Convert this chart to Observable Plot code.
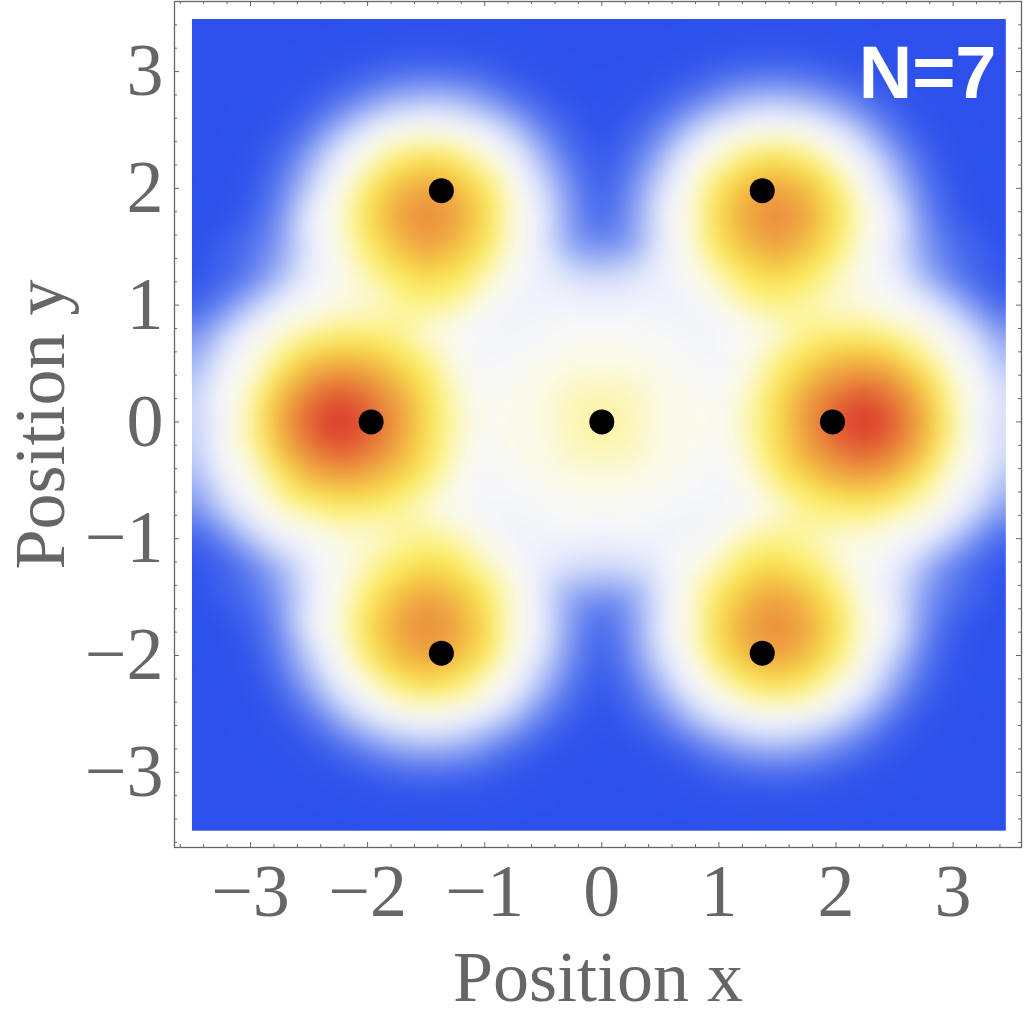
<!DOCTYPE html>
<html>
<head>
<meta charset="utf-8">
<script src="https://cdn.jsdelivr.net/npm/d3@7"></script>
<script src="https://cdn.jsdelivr.net/npm/@observablehq/plot@0.6"></script>
<style>
  html, body { margin: 0; padding: 0; background: #fff; }
  #chart { width: 1024px; height: 1020px; }
</style>
</head>
<body>
<div id="chart"></div>
<script>
// ---------- data ----------
const gridX = [-3.5,-3.25,-3,-2.75,-2.5,-2.25,-2,-1.75,-1.5,-1.25,-1,-0.75,-0.5,-0.25,0,0.25,0.5,0.75,1,1.25,1.5,1.75,2,2.25,2.5,2.75,3,3.25,3.5];
const gridY = [3.5,3.25,3,2.75,2.5,2.25,2,1.75,1.5,1.25,1,0.75,0.5,0.25,0,-0.25,-0.5,-0.75,-1,-1.25,-1.5,-1.75,-2,-2.25,-2.5,-2.75,-3,-3.25,-3.5];
// density level (0 = background, 100 = highest) per grid row (top to bottom), per column (left to right)
const densityRows = [
  [4,4,4,4,5,6,7,8,8,8,7,6,5,5,4,5,5,6,7,8,8,8,7,6,5,4,4,4,4],
  [4,4,5,6,8,9,11,13,14,13,12,10,8,6,5,6,8,10,12,13,14,13,11,9,8,6,5,4,4],
  [4,5,6,9,12,16,20,23,24,23,21,16,13,9,7,9,13,16,21,23,24,23,20,16,12,9,6,5,4],
  [5,6,9,13,18,25,31,36,38,37,32,26,19,14,10,14,19,26,32,37,38,36,31,25,18,13,9,6,5],
  [5,7,11,17,26,36,45,50,52,50,46,38,28,20,13,20,28,38,46,50,52,50,45,36,26,17,11,7,5],
  [6,9,14,23,34,46,55,67,71,68,57,48,36,25,17,25,36,48,57,68,71,67,55,46,34,23,14,9,6],
  [7,10,17,27,40,51,68,79,84,80,70,53,42,29,20,29,42,53,70,80,84,79,68,51,40,27,17,10,7],
  [8,12,20,30,46,55,71,83,88,84,73,55,45,31,22,31,45,55,73,84,88,83,71,55,46,30,20,12,8],
  [11,20,24,32,44,53,67,78,84,79,70,55,44,33,30,33,44,55,70,79,84,78,67,53,44,32,24,20,11],
  [14,20,27,36,45,51,60,68,73,70,60,52,45,42,41,42,45,52,60,70,73,68,60,51,45,36,27,20,14],
  [20,28,38,46,50,55,56,61,63,61,53,47,47,47,46,47,47,47,53,61,63,61,56,55,50,46,38,28,20],
  [29,39,48,57,62,66,65,63,56,50,48,48,49,51,51,51,49,48,48,50,56,63,65,66,62,57,48,39,29],
  [34,45,53,66,78,82,80,73,65,54,48,50,53,55,55,55,53,50,48,54,65,73,80,82,78,66,53,45,34],
  [38,49,59,78,89,94,90,83,71,58,50,53,55,59,60,59,55,53,50,58,71,83,90,94,89,78,59,49,38],
  [39,47,62,82,94,100,95,86,72,60,52,54,55,60,62,60,55,54,52,60,72,86,95,100,94,82,62,47,39],
  [38,49,59,78,89,94,90,83,71,58,50,53,55,59,60,59,55,53,50,58,71,83,90,94,89,78,59,49,38],
  [34,45,53,66,78,82,80,73,65,54,48,50,53,55,55,55,53,50,48,54,65,73,80,82,78,66,53,45,34],
  [29,39,48,57,62,66,65,63,56,50,48,48,49,51,51,51,49,48,48,50,56,63,65,66,62,57,48,39,29],
  [20,28,38,46,50,55,56,61,63,61,53,47,47,47,46,47,47,47,53,61,63,61,56,55,50,46,38,28,20],
  [14,20,27,36,45,51,60,68,73,70,60,52,45,42,41,42,45,52,60,70,73,68,60,51,45,36,27,20,14],
  [11,20,24,32,44,53,67,78,84,79,70,55,44,33,30,33,44,55,70,79,84,78,67,53,44,32,24,20,11],
  [8,12,20,30,46,55,71,83,88,84,73,55,45,31,22,31,45,55,73,84,88,83,71,55,46,30,20,12,8],
  [7,10,17,27,40,51,68,79,84,80,70,53,42,29,20,29,42,53,70,80,84,79,68,51,40,27,17,10,7],
  [6,9,14,23,34,46,55,67,71,68,57,48,36,25,17,25,36,48,57,68,71,67,55,46,34,23,14,9,6],
  [5,7,11,17,26,36,45,50,52,50,46,38,28,20,13,20,28,38,46,50,52,50,45,36,26,17,11,7,5],
  [5,6,9,13,18,25,31,36,38,37,32,26,19,14,10,14,19,26,32,37,38,36,31,25,18,13,9,6,5],
  [4,5,6,9,12,16,20,23,24,23,21,16,13,9,7,9,13,16,21,23,24,23,20,16,12,9,6,5,4],
  [4,4,5,6,8,9,11,13,14,13,12,10,8,6,5,6,8,10,12,13,14,13,11,9,8,6,5,4,4],
  [4,4,4,4,5,6,7,8,8,8,7,6,5,5,4,5,5,6,7,8,8,8,7,6,5,4,4,4,4]
];
// black markers
const pointX = [0, -1.97, 1.97, -1.37, 1.37, -1.37, 1.37];
const pointY = [0, 0, 0, 1.98, 1.98, -1.98, -1.98];
// ticks and labels
const xTicks = [-3, -2, -1, 0, 1, 2, 3];
const yTicks = [-3, -2, -1, 0, 1, 2, 3];
const minorTicks = [-3.6,-3.4,-3.2,-2.8,-2.6,-2.4,-2.2,-1.8,-1.6,-1.4,-1.2,-0.8,-0.6,-0.4,-0.2,0.2,0.4,0.6,0.8,1.2,1.4,1.6,1.8,2.2,2.4,2.6,2.8,3.2,3.4];
const panelLabel = "N=7";
const xLabel = "Position x";
const yLabel = "Position y";
// colour stops (level -> colour)
const levelStops = [0, 14, 22, 30, 37, 42, 46, 50, 55, 62, 68, 77, 87, 100];
const colorStops = ["#2c4fec","#2e52ec","#4366ed","#7690f1","#aebff6","#d8e0fa","#eff2fc","#f9f9f9","#fbfae6","#fcf4a0","#fbee5a","#f5c546","#eb8f3e","#d93029"];

// ---------- build tables ----------
const cells = [];
gridY.forEach((y, i) => gridX.forEach((x, j) => cells.push({x, y, v: densityRows[i][j]})));
const points = pointX.map((x, i) => ({x, y: pointY[i]}));

const W = 1024, H = 1020, mL = 174, mR = 3, mT = 1, mB = 173;
const innerW = W - mL - mR, innerH = H - mT - mB;
const gray = "#666";
const serif = "'Liberation Serif','Times New Roman',Times,serif";
const fmt = d => (d < 0 ? "\u2212" : "") + Math.abs(d);

const chart = Plot.plot({
  width: W, height: H,
  marginLeft: mL, marginRight: mR, marginTop: mT, marginBottom: mB,
  x: {domain: [-3.649, 3.584]},
  y: {domain: [-3.644, 3.60]},
  color: {type: "linear", domain: levelStops, range: colorStops, interpolate: "rgb"},
  style: {fontFamily: serif, background: "#fff", color: gray},
  marks: [
    Plot.raster(cells, {x: "x", y: "y", fill: "v", x1: -3.5, x2: 3.45, y1: -3.5, y2: 3.45, interpolate: "barycentric", blur: 10}),
    Plot.dot(points, {x: "x", y: "y", r: 12.5, fill: "black", stroke: null}),
    Plot.text([panelLabel], {frameAnchor: "top-right", text: d => d, dx: -25, dy: 96, lineAnchor: "bottom", textAnchor: "end",
      fill: "white", fontSize: 74, fontWeight: "bold", fontFamily: "'Liberation Sans',Arial,sans-serif"}),
    Plot.frame({stroke: gray, strokeWidth: 1.3}),
    // inward ticks on all four sides
    Plot.tickX(xTicks, {x: d => d, insetBottom: innerH - 5, stroke: gray}),
    Plot.tickX(xTicks, {x: d => d, insetTop: innerH - 5, stroke: gray}),
    Plot.tickX(minorTicks, {x: d => d, insetBottom: innerH - 3, stroke: gray}),
    Plot.tickX(minorTicks, {x: d => d, insetTop: innerH - 3, stroke: gray}),
    Plot.tickY(yTicks, {y: d => d, insetRight: innerW - 5, stroke: gray}),
    Plot.tickY(yTicks, {y: d => d, insetLeft: innerW - 5, stroke: gray}),
    Plot.tickY(minorTicks, {y: d => d, insetRight: innerW - 3, stroke: gray}),
    Plot.tickY(minorTicks, {y: d => d, insetLeft: innerW - 3, stroke: gray}),
    Plot.axisX(xTicks, {anchor: "bottom", tickSize: 0, tickPadding: 16, fontSize: 74, fill: gray, label: null, tickFormat: fmt}),
    Plot.axisY(yTicks, {anchor: "left", tickSize: 0, tickPadding: 11, fontSize: 74, fill: gray, label: null, tickFormat: fmt}),
    Plot.text([xLabel], {frameAnchor: "bottom", text: d => d, dy: 153, lineAnchor: "bottom", textAnchor: "middle", fontSize: 72, fill: gray}),
    Plot.text([yLabel], {frameAnchor: "left", text: d => d, rotate: -90, dx: -111, lineAnchor: "bottom", textAnchor: "middle", fontSize: 72, fill: gray})
  ]
});
document.getElementById("chart").appendChild(chart);
</script>
</body>
</html>
